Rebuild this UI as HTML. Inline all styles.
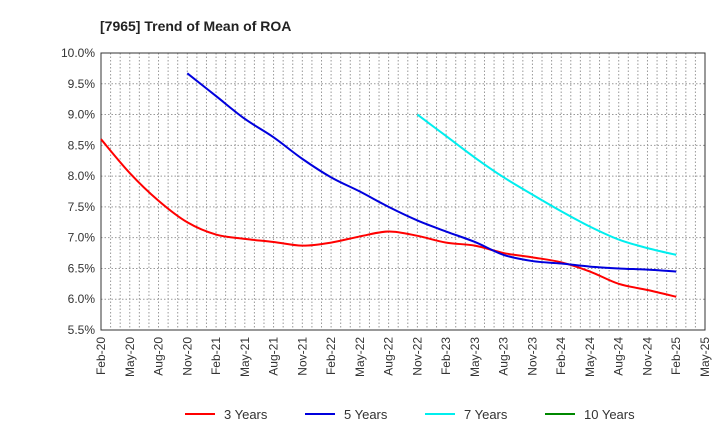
<!DOCTYPE html>
<html><head><meta charset="utf-8"><style>
body{margin:0;background:#fff;}
svg{display:block;font-family:"Liberation Sans",sans-serif;}
</style></head><body>
<svg id="chart" width="720" height="440" viewBox="0 0 720 440" xmlns="http://www.w3.org/2000/svg">
<text x="100" y="31" font-size="14" font-weight="bold" fill="#222">[7965]  Trend of Mean of ROA</text>
<g id="grid"></g><g id="axes"></g><g id="series"></g><g id="legend"></g>
</svg>
<script>
const xTickLabels=["Feb-20","May-20","Aug-20","Nov-20","Feb-21","May-21","Aug-21","Nov-21","Feb-22","May-22","Aug-22","Nov-22","Feb-23","May-23","Aug-23","Nov-23","Feb-24","May-24","Aug-24","Nov-24","Feb-25","May-25"];
const yTickValues=[5.5,6.0,6.5,7.0,7.5,8.0,8.5,9.0,9.5,10.0];
const seriesNames=["3 Years","5 Years","7 Years","10 Years"];
const seriesColors=["#ff0000","#0000dd","#00eeee","#008800"];
// quarter indices (0 = Feb-20)
const start3=0;
const values3=[8.6,8.05,7.6,7.25,7.05,6.98,6.93,6.87,6.92,7.02,7.1,7.03,6.92,6.87,6.75,6.68,6.6,6.45,6.25,6.15,6.04];
const start5=3;
const values5=[9.67,9.3,8.93,8.63,8.28,7.98,7.75,7.5,7.28,7.1,6.93,6.72,6.62,6.58,6.53,6.5,6.48,6.45];
const start7=11;
const values7=[9.0,8.65,8.3,7.98,7.7,7.43,7.18,6.97,6.83,6.72];
const start10=0;
const values10=[];

const L=101,R=705,T=53,B=330;
const nMonths=63;
const xq=q=>L+(q*3)*(R-L)/nMonths;
const xm=m=>L+m*(R-L)/nMonths;
const y=v=>B-(v-5.5)*(B-T)/4.5;
const NS="http://www.w3.org/2000/svg";
function mk(tag,attrs,parent){const e=document.createElementNS(NS,tag);for(const k in attrs)e.setAttribute(k,attrs[k]);parent.appendChild(e);return e;}
const grid=document.getElementById('grid'),axes=document.getElementById('axes'),ser=document.getElementById('series'),leg=document.getElementById('legend');
for(let m=1;m<nMonths;m++){const l=mk('line',{x1:xm(m),x2:xm(m),y1:T,y2:B,stroke:'#999','stroke-dasharray':'1.5,2','stroke-width':1},grid);

}
yTickValues.forEach(v=>{
 if(v>5.5&&v<10){const l=mk('line',{x1:L,x2:R,y1:y(v),y2:y(v),stroke:'#999','stroke-dasharray':'1.5,2'},grid);
 
 }
 const t=mk('text',{x:L-6,y:y(v)+4,'text-anchor':'end','font-size':12,fill:'#333'},axes);
 
 
 t.textContent=v.toFixed(1)+'%';
});
const fr=mk('rect',{x:L,y:T,width:R-L,height:B-T,fill:'none',stroke:'#333','stroke-width':1},axes);


xTickLabels.forEach((s,i)=>{
 const x=xq(i);
 const t=mk('text',{x:0,y:0,'text-anchor':'end','font-size':12,fill:'#333',transform:`translate(${x+4},${B+7}) rotate(-90)`},axes);
 
 
 t.textContent=s;
});
function smooth(pts){
 if(pts.length<2)return '';
 let d=`M${pts[0][0]},${pts[0][1]}`;
 for(let i=0;i<pts.length-1;i++){
  const p0=pts[i-1]||pts[i],p1=pts[i],p2=pts[i+1],p3=pts[i+2]||p2;
  const c1=[p1[0]+(p2[0]-p0[0])/6,p1[1]+(p2[1]-p0[1])/6],c2=[p2[0]-(p3[0]-p1[0])/6,p2[1]-(p3[1]-p1[1])/6];
  d+=` C${c1[0]},${c1[1]} ${c2[0]},${c2[1]} ${p2[0]},${p2[1]}`;
 }
 return d;
}
const all=[[start3,values3],[start5,values5],[start7,values7],[start10,values10]];
const names=['line-3-years','line-5-years','line-7-years','line-10-years'];
all.forEach(([s,vals],k)=>{
 if(!vals.length)return;
 const pts=vals.map((v,i)=>[xq(s+i),y(v)]);
 const p=mk('path',{d:smooth(pts),fill:'none',stroke:seriesColors[k],'stroke-width':2},ser);
 
 
});
seriesNames.forEach((n,k)=>{
 const x0=185+k*120;
 const g=mk('g',{},leg);
 
 
 mk('line',{x1:x0,x2:x0+30,y1:414,y2:414,stroke:seriesColors[k],'stroke-width':2},g);
 const t=mk('text',{x:x0+39,y:419,'font-size':13,fill:'#333'},g);
 t.textContent=n;
});
</script>
</body></html>
